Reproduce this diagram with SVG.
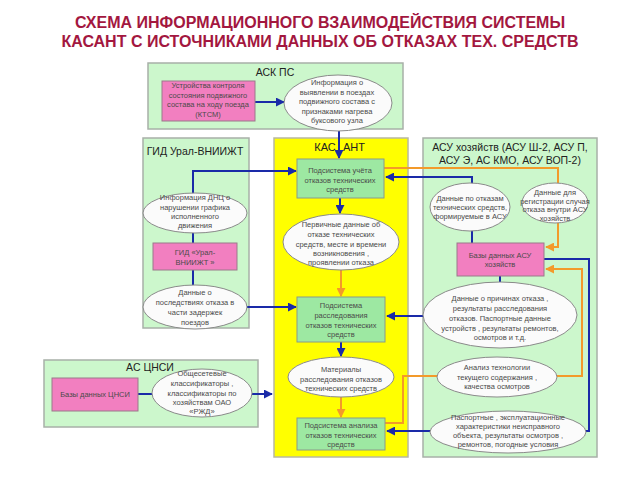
<svg xmlns="http://www.w3.org/2000/svg" width="640" height="480" viewBox="0 0 640 480">
<defs>
<marker id="ab" viewBox="0 0 10 10" refX="9" refY="5" markerWidth="4.5" markerHeight="4.5" orient="auto" markerUnits="strokeWidth"><path d="M0,0 L10,5 L0,10 z" fill="#1a2aa8"/></marker>
<marker id="ao" viewBox="0 0 10 10" refX="9" refY="5" markerWidth="4.5" markerHeight="4.5" orient="auto" markerUnits="strokeWidth"><path d="M0,0 L10,5 L0,10 z" fill="#f39a2a"/></marker>
<style>
.title{font-family:"Liberation Sans",Arial,sans-serif;font-weight:bold;font-size:16px;fill:#a3173f;text-anchor:middle}
.panel{fill:#ccf7cc;stroke:#a8b0a8;stroke-width:1.5}
.kas{fill:#ffff00;stroke:#b8b8a0;stroke-width:1.5}
.pt{font-family:"Liberation Sans",Arial,sans-serif;font-size:10.5px;fill:#222;text-anchor:middle}
.pink{fill:#f27fc0;stroke:#9a7a8a;stroke-width:1}
.gbox{fill:#9de8a2;stroke:#8a9a8a;stroke-width:1}
.ell{fill:#fbfbfb;stroke:#8a8a8a;stroke-width:1}
.t{font-family:"Liberation Sans",Arial,sans-serif;font-size:7.5px;fill:#4a4a4a;text-anchor:middle}
.b{fill:none;stroke:#1a2aa8;stroke-width:2}
.o{fill:none;stroke:#f39a2a;stroke-width:2}
</style>
</defs>
<rect width="640" height="480" fill="#ffffff"/>
<text class="title" x="320" y="28">СХЕМА ИНФОРМАЦИОННОГО ВЗАИМОДЕЙСТВИЯ СИСТЕМЫ</text>
<text class="title" x="320" y="47">КАСАНТ С ИСТОЧНИКАМИ ДАННЫХ ОБ ОТКАЗАХ ТЕХ. СРЕДСТВ</text>

<g id="panel-askps">
<rect class="panel" x="148" y="63" width="255" height="66"/>
<text class="pt" x="275" y="76">АСК ПС</text>
</g>
<g id="panel-gid">
<rect class="panel" x="143" y="138" width="106" height="190"/>
<text class="pt" x="195" y="155">ГИД Урал-ВНИИЖТ</text>
</g>
<g id="panel-kasant">
<rect class="kas" x="274" y="138" width="134" height="319"/>
<text class="pt" style="font-size:11px"><tspan x="325" y="151">КАС</tspan><tspan x="354" y="151">АНТ</tspan></text>
</g>
<g id="panel-asu">
<rect class="panel" x="423" y="138" width="174" height="319"/>
<text class="pt" x="510" y="151">АСУ хозяйств (АСУ Ш-2, АСУ П,</text>
<text class="pt" x="510" y="164">АСУ Э, АС КМО, АСУ ВОП-2)</text>
</g>
<g id="panel-cnsi">
<rect class="panel" x="44" y="360" width="214" height="67"/>
<text class="pt" x="150" y="371">АС ЦНСИ</text>
</g>

<g id="connectors">
<path class="b" d="M255,102 H284" marker-end="url(#ab)"/>
<path class="b" d="M339,131 V158" marker-end="url(#ab)"/>
<path class="b" d="M193,194 V171 H296" marker-end="url(#ab)"/>
<path class="b" d="M193,232 V243"/>
<path class="b" d="M193,270 V285"/>
<path class="b" d="M247,307 H296" marker-end="url(#ab)"/>
<path class="b" d="M340,198 V213" marker-end="url(#ab)"/>
<path class="b" d="M341,342 V356" marker-end="url(#ab)"/>
<path class="b" d="M138,394 H152"/>
<path class="b" d="M252,394 H272" marker-end="url(#ab)"/>
<path class="b" d="M472,184 V177 H386" marker-end="url(#ab)"/>
<path class="b" d="M472,243 V230"/>
<path class="b" d="M500,276 V283"/>
<path class="b" d="M424,316 H387" marker-end="url(#ab)"/>
<path class="b" d="M544,259 H589 V431 H585"/>
<path class="b" d="M430,431 H387" marker-end="url(#ab)"/>
<path class="o" d="M384,168 H558 V183"/>
<path class="o" d="M558,223 V247 H546" marker-end="url(#ao)"/>
<path class="o" d="M341,270 V296" marker-end="url(#ao)"/>
<path class="o" d="M341,397 V417" marker-end="url(#ao)"/>
<path class="o" d="M385,423 H403 V376 H438"/>
<path class="o" d="M556,376 H582 V269 H546" marker-end="url(#ao)"/>
</g>

<g id="ktsm">
<rect class="pink" x="162" y="81" width="93" height="40"/>
<text class="t"><tspan x="208" y="88">Устройства контроля</tspan><tspan x="208" y="97.5">состояния подвижного</tspan><tspan x="208" y="107">состава на ходу поезда</tspan><tspan x="208" y="116.5">(КТСМ)</tspan></text>
</g>
<g id="info-buksa">
<ellipse class="ell" cx="338" cy="103" rx="54" ry="28"/>
<text class="t"><tspan x="337" y="85">Информация о</tspan><tspan x="337" y="94.5">выявлении в поездах</tspan><tspan x="337" y="104">подвижного состава с</tspan><tspan x="337" y="113.5">признаками нагрева</tspan><tspan x="337" y="123">буксового узла</tspan></text>
</g>

<g id="gid-info">
<ellipse class="ell" cx="195" cy="213" rx="52" ry="20"/>
<text class="t"><tspan x="195" y="200">Информация ДНЦ о</tspan><tspan x="195" y="209.5">нарушении графика</tspan><tspan x="195" y="219">исполненного</tspan><tspan x="195" y="228">движения</tspan></text>
</g>
<g id="gid-box">
<rect class="pink" x="153" y="243" width="84" height="27"/>
<text class="t"><tspan x="195" y="255">ГИД «Урал-</tspan><tspan x="195" y="265">ВНИИЖТ »</tspan></text>
</g>
<g id="gid-delay">
<ellipse class="ell" cx="195" cy="307" rx="52" ry="22"/>
<text class="t"><tspan x="195" y="295">Данные о</tspan><tspan x="195" y="305">последствиях отказа в</tspan><tspan x="195" y="315">части задержек</tspan><tspan x="195" y="325">поездов</tspan></text>
</g>

<g id="cnsi-db">
<rect class="pink" x="52" y="378" width="86" height="33"/>
<text class="t" x="95" y="397">Базы данных ЦНСИ</text>
</g>
<g id="cnsi-class">
<ellipse class="ell" cx="202" cy="393" rx="50" ry="24"/>
<text class="t"><tspan x="202" y="376">Общесетевые</tspan><tspan x="202" y="386">классификаторы ,</tspan><tspan x="202" y="395.5">классификаторы по</tspan><tspan x="202" y="405">хозяйствам ОАО</tspan><tspan x="202" y="414">«РЖД»</tspan></text>
</g>

<g id="sub-uchet">
<rect class="gbox" x="297" y="159" width="87" height="39"/>
<text class="t"><tspan x="340" y="173">Подсистема учёта</tspan><tspan x="340" y="182.5">отказов технических</tspan><tspan x="340" y="192">средств</tspan></text>
</g>
<g id="primary-data">
<ellipse class="ell" cx="341" cy="242" rx="58" ry="28"/>
<text class="t"><tspan x="341" y="227">Первичные данные об</tspan><tspan x="341" y="237">отказе технических</tspan><tspan x="341" y="247">средств, месте и времени</tspan><tspan x="341" y="256">возникновения ,</tspan><tspan x="341" y="265">проявлении отказа</tspan></text>
</g>
<g id="sub-rassl">
<rect class="gbox" x="297" y="297" width="88" height="45"/>
<text class="t"><tspan x="341" y="308">Подсистема</tspan><tspan x="341" y="318">расследования</tspan><tspan x="341" y="328">отказов технических</tspan><tspan x="341" y="337">средств</tspan></text>
</g>
<g id="materials">
<ellipse class="ell" cx="341" cy="377" rx="53" ry="20"/>
<text class="t"><tspan x="341" y="372">Материалы</tspan><tspan x="341" y="382">расследования отказов</tspan><tspan x="341" y="391">технических средств</tspan></text>
</g>
<g id="sub-analysis">
<rect class="gbox" x="297" y="418" width="88" height="32"/>
<text class="t"><tspan x="341" y="428">Подсистема анализа</tspan><tspan x="341" y="438">отказов технических</tspan><tspan x="341" y="447">средств</tspan></text>
</g>

<g id="asu-data">
<ellipse class="ell" cx="470" cy="207" rx="40" ry="24"/>
<text class="t"><tspan x="470" y="201">Данные по отказам</tspan><tspan x="470" y="210">технических средств,</tspan><tspan x="470" y="219">формируемые в АСУ</tspan></text>
</g>
<g id="asu-reg">
<ellipse class="ell" cx="555" cy="203" rx="33" ry="20"/>
<text class="t"><tspan x="555" y="195">Данные для</tspan><tspan x="555" y="204">регистрации случая</tspan><tspan x="555" y="212">отказа внутри АСУ</tspan><tspan x="555" y="221">хозяйств</tspan></text>
</g>
<g id="asu-db">
<rect class="pink" x="457" y="243" width="87" height="33"/>
<text class="t"><tspan x="500" y="258">Базы данных АСУ</tspan><tspan x="500" y="267">хозяйств</tspan></text>
</g>
<g id="asu-causes">
<ellipse class="ell" cx="500" cy="315" rx="77" ry="33"/>
<text class="t"><tspan x="500" y="301">Данные о причинах отказа ,</tspan><tspan x="500" y="311">результаты расследования</tspan><tspan x="500" y="321">отказов. Паспортные данные</tspan><tspan x="500" y="331">устройств , результаты ремонтов,</tspan><tspan x="500" y="340">осмотров и т.д.</tspan></text>
</g>
<g id="asu-tech">
<ellipse class="ell" cx="497" cy="377" rx="60" ry="20"/>
<text class="t"><tspan x="497" y="370">Анализ технологии</tspan><tspan x="497" y="380">текущего содержания ,</tspan><tspan x="497" y="389">качества осмотров</tspan></text>
</g>
<g id="asu-passport">
<ellipse class="ell" cx="508" cy="432" rx="78" ry="21"/>
<text class="t"><tspan x="508" y="420">Паспортные , эксплуатационные</tspan><tspan x="508" y="429">характеристики неисправного</tspan><tspan x="508" y="438">объекта, результаты осмотров ,</tspan><tspan x="508" y="447">ремонтов, погодные условия</tspan></text>
</g>
</svg>
